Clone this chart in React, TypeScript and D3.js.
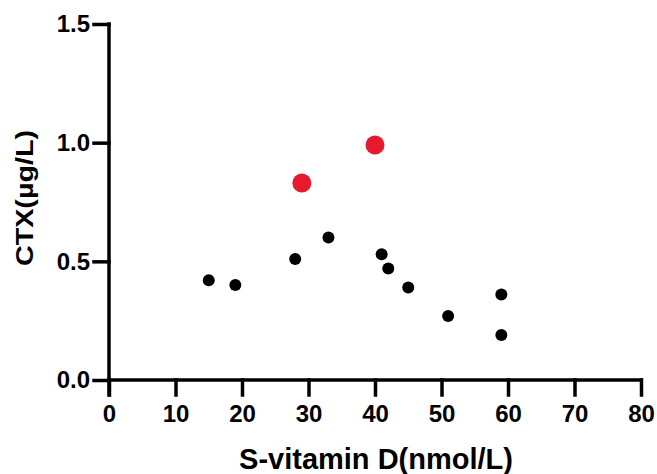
import * as d3 from 'd3'
import * as React from 'react'

// S-vitamin D (nmol/L) vs CTX (µg/L)
const blackX: number[] = [15, 19, 28, 33, 41, 42, 45, 51, 59, 59]
const blackY: number[] = [0.42, 0.40, 0.51, 0.60, 0.53, 0.47, 0.39, 0.27, 0.36, 0.19]
const redX: number[] = [29, 40]
const redY: number[] = [0.83, 0.99]

const xTicks: number[] = [0, 10, 20, 30, 40, 50, 60, 70, 80]
const yTicks: number[] = [0.0, 0.5, 1.0, 1.5]

const xTitle = 'S-vitamin D(nmol/L)'
const yTitle = 'CTX(µg/L)'

const W = 657
const H = 474
const FONT = '"Liberation Sans", Arial, Helvetica, sans-serif'

export default function App() {
  const node = React.useRef<SVGSVGElement>(null)

  React.useEffect(() => {
    const svg = d3.select(node.current!)
    svg.selectAll('*').remove()

    const x = d3.scaleLinear().domain([0, 80]).range([109, 641])
    const y = d3.scaleLinear().domain([0, 1.5]).range([380, 24])
    const tickLen = 15
    const stroke = 3.5

    // x axis
    const gx = svg.append('g')
      .attr('transform', 'translate(0,' + y(0) + ')')
      .call(d3.axisBottom(x).tickValues(xTicks).tickSize(tickLen).tickPadding(10).tickFormat(d3.format('d')) as any)
    gx.select('.domain').attr('d', 'M' + x(0) + ',0H' + x(80))

    // y axis
    const gy = svg.append('g')
      .attr('transform', 'translate(' + x(0) + ',0)')
      .call(d3.axisLeft(y).tickValues(yTicks).tickSize(tickLen).tickPadding(4).tickFormat(d3.format('.1f')) as any)
    gy.select('.domain').attr('d', 'M0,' + y(1.5) + 'V' + (y(0) + tickLen))

    svg.selectAll('.domain, .tick line')
      .attr('stroke', '#000')
      .attr('stroke-width', stroke)
      .attr('stroke-linecap', 'square')
    svg.selectAll('.tick text')
      .attr('fill', '#000')
      .attr('font-family', FONT)
      .attr('font-weight', 'bold')
      .attr('font-size', 24)

    // points
    svg.append('g').selectAll('circle')
      .data(d3.range(blackX.length))
      .enter()
      .append('circle')
      .attr('cx', (i: number) => x(blackX[i]))
      .attr('cy', (i: number) => y(blackY[i]))
      .attr('r', 6)
      .attr('fill', '#000')

    svg.append('g').selectAll('circle')
      .data(d3.range(redX.length))
      .enter()
      .append('circle')
      .attr('cx', (i: number) => x(redX[i]))
      .attr('cy', (i: number) => y(redY[i]))
      .attr('r', 9.5)
      .attr('fill', '#e8192c')

    // titles
    svg.append('text')
      .attr('x', 376)
      .attr('y', 469)
      .attr('text-anchor', 'middle')
      .attr('font-family', FONT)
      .attr('font-weight', 'bold')
      .attr('font-size', 29)
      .text(xTitle)

    svg.append('text')
      .attr('transform', 'translate(33,198) rotate(-90)')
      .attr('text-anchor', 'middle')
      .attr('font-family', FONT)
      .attr('font-weight', 'bold')
      .attr('font-size', 24)
      .attr('textLength', 136)
      .attr('lengthAdjust', 'spacingAndGlyphs')
      .text(yTitle)
  }, [])

  return (
    <svg ref={node} width={W} height={H}
      style={{ position: 'absolute', left: 0, top: 0, background: '#fff' }} />
  )
}
